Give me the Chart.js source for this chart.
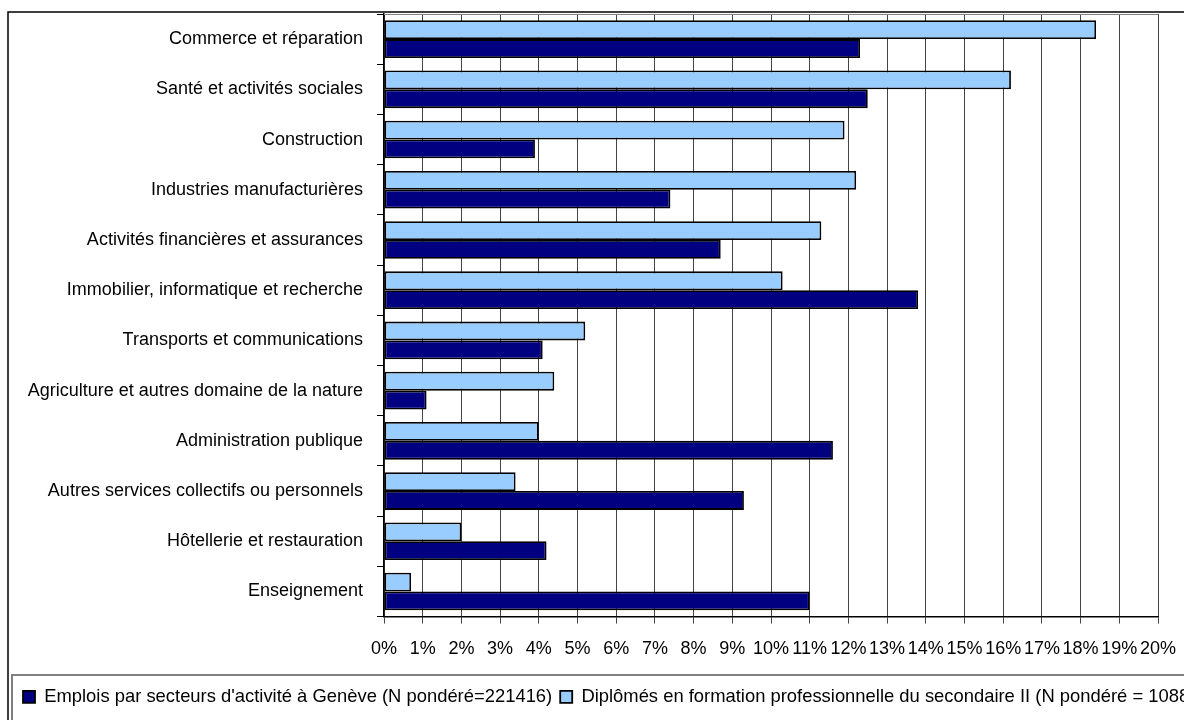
<!DOCTYPE html>
<html>
<head>
<meta charset="utf-8">
<script src="https://cdn.jsdelivr.net/npm/chart.js@4/dist/chart.umd.min.js"></script>
<style>
  html, body { margin: 0; padding: 0; background: #fff; overflow: hidden; }
  #chart { display: block; }
</style>
</head>
<body>
<!-- the reference is a crop of a wider chart: the canvas runs past the window's right edge -->
<canvas id="chart" width="1230" height="720"></canvas>
<script>
const sectors = [
    "Commerce et réparation",
    "Santé et activités sociales",
    "Construction",
    "Industries manufacturières",
    "Activités financières et assurances",
    "Immobilier, informatique et recherche",
    "Transports et communications",
    "Agriculture et autres domaine de la nature",
    "Administration publique",
    "Autres services collectifs ou personnels",
    "Hôtellerie et restauration",
    "Enseignement"
];
const emplois = [12.3, 12.5, 3.9, 7.4, 8.7, 13.8, 4.1, 1.1, 11.6, 9.3, 4.2, 11.0];
const diplomes = [18.4, 16.2, 11.9, 12.2, 11.3, 10.3, 5.2, 4.4, 4.0, 3.4, 2.0, 0.7];
const emploisLabel = "Emplois par secteurs d'activité à Genève (N pondéré=221416)";
const diplomesLabel = "Diplômés en formation professionnelle du secondaire II (N pondéré = 1088)";
const xTicks = [0, 20, 1]; // min, max, step

const font = "'Liberation Sans', Arial, sans-serif";

// frame around the chart and box around the legend
const framePlugin = {
    id: "frame",
    afterDraw(chart) {
        const ctx = chart.ctx;
        const area = chart.chartArea;
        ctx.save();
        ctx.strokeStyle = "#000";
        ctx.lineWidth = 1.5;
        ctx.strokeRect(8, 12, 1300, 760);
        ctx.strokeStyle = "#808080";
        ctx.lineWidth = 1;
        ctx.beginPath();
        ctx.moveTo(area.left, area.top + 0.5);
        ctx.lineTo(area.right, area.top + 0.5);
        ctx.stroke();
        ctx.lineWidth = 2;
        ctx.strokeRect(12, 675, 1300, 60);
        ctx.restore();
    }
};

const ctx = document.getElementById("chart").getContext("2d");
new Chart(ctx, {
    type: "bar",
    data: {
        labels: sectors,
        datasets: [
            {
                label: diplomesLabel,
                data: diplomes,
                backgroundColor: "#99CCFF",
                borderColor: "#000",
                borderWidth: 1.8,
                borderSkipped: false,
                categoryPercentage: 0.75,
                barPercentage: 1.0,
            },
            {
                label: emploisLabel,
                data: emplois,
                backgroundColor: "#000080",
                borderColor: "#000",
                borderWidth: 1.8,
                borderSkipped: false,
                categoryPercentage: 0.75,
                barPercentage: 1.0,
            },
        ],
    },
    options: {
        indexAxis: "y",
        responsive: false,
        animation: false,
        layout: {
            padding: { left: 15, top: 14, right: 0, bottom: 4 },
        },
        plugins: {
            tooltip: { enabled: false },
            legend: {
                position: "bottom",
                align: "start",
                reverse: true,
                labels: {
                    boxWidth: 12,
                    boxHeight: 12,
                    padding: 8,
                    color: "#000",
                    font: { family: font, size: 18.4 },
                },
            },
        },
        scales: {
            x: {
                min: xTicks[0],
                max: xTicks[1],
                afterFit: (scale) => {
                    scale.height = 63;
                    scale.paddingLeft = 0;
                    scale.paddingRight = 72;
                },
                ticks: {
                    stepSize: xTicks[2],
                    autoSkip: false,
                    maxRotation: 0,
                    padding: 15,
                    color: "#000",
                    font: { family: font, size: 18 },
                    callback: (v) => v + "%",
                },
                grid: {
                    color: "#444",
                    lineWidth: 1,
                    tickLength: 7,
                },
                border: { color: "#000", width: 1.5 },
            },
            y: {
                afterFit: (scale) => {
                    scale.width = 369;
                    scale.paddingTop = 0;
                    scale.paddingBottom = 0;
                },
                ticks: {
                    padding: 14,
                    color: "#000",
                    font: { family: font, size: 18 },
                },
                grid: {
                    drawOnChartArea: false,
                    drawTicks: true,
                    tickLength: 7,
                    color: "#000",
                    offset: true,
                },
                border: { color: "#000", width: 1.5 },
            },
        },
    },
    plugins: [framePlugin],
});
</script>
</body>
</html>
